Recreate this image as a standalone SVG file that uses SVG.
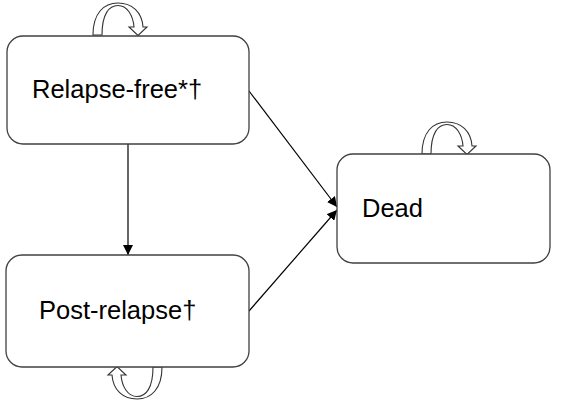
<svg xmlns="http://www.w3.org/2000/svg" width="569" height="401" viewBox="0 0 569 401">
<style>
.box{fill:#fff;stroke:#404040;stroke-width:1.3}
.lbl{font-family:"Liberation Sans",Arial,sans-serif;font-size:25.5px;fill:#000}
.edge{stroke:#000;stroke-width:1.2;fill:none}
.loop{fill:#fff;stroke:#333;stroke-width:1.1}
</style>
<defs>
<marker id="ah" viewBox="0 0 10 10" refX="10" refY="5" markerWidth="10" markerHeight="10" markerUnits="userSpaceOnUse" orient="auto">
<path d="M0,0 L10,5 L0,10 Z" fill="#000"/>
</marker>
<path id="loopShape" d="M93,35 C93,13 104,3 118,3 C132,3 142,12 143,27 L147,27 L138,35.5 L129,27 L134,27 C133,15 127,5.5 118,5.5 C109,5.5 102,14 102,35 Z"/>
</defs>
<g id="connectors">
<line class="edge" x1="128" y1="144" x2="128" y2="255" marker-end="url(#ah)"/>
<line class="edge" x1="249" y1="91" x2="337" y2="207" marker-end="url(#ah)"/>
<line class="edge" x1="249" y1="311" x2="337" y2="210" marker-end="url(#ah)"/>
<use href="#loopShape" class="loop"/>
<use href="#loopShape" class="loop" transform="translate(329,119)"/>
<use href="#loopShape" class="loop" transform="translate(255,402) rotate(180)"/>
</g>
<g id="relapse-free">
<rect class="box" x="7" y="36" width="242" height="108" rx="16"/>
<text class="lbl" x="32" y="98">Relapse-free*†</text>
</g>
<g id="post-relapse">
<rect class="box" x="6" y="255" width="243" height="112" rx="16"/>
<text class="lbl" x="39" y="319">Post-relapse†</text>
</g>
<g id="dead">
<rect class="box" x="337" y="154" width="213" height="109" rx="16"/>
<text class="lbl" x="362" y="217">Dead</text>
</g>
</svg>
